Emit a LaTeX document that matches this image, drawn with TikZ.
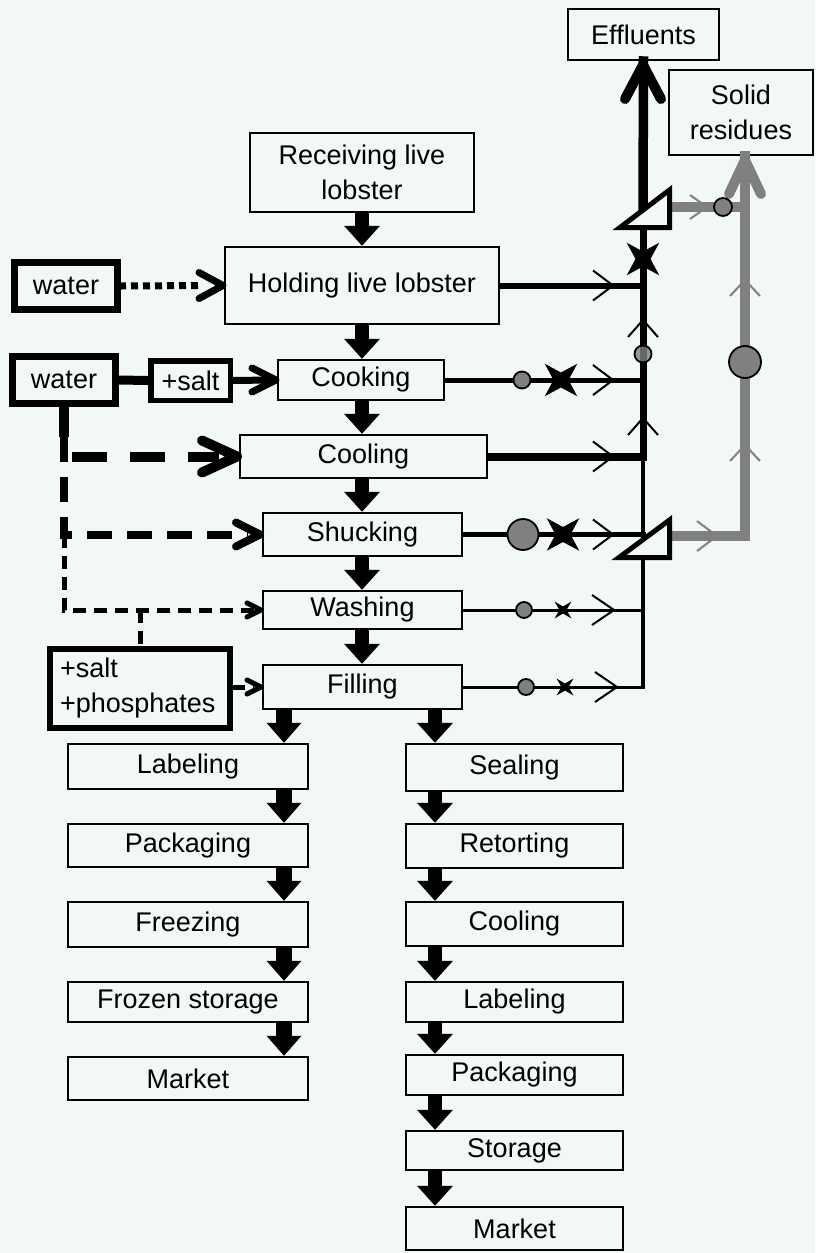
\documentclass[tikz,border=0pt]{standalone}
\usepackage{fontspec}
\setmainfont{Liberation Sans}
\usetikzlibrary{arrows.meta}
\definecolor{bg}{RGB}{242,248,245}
\definecolor{gr}{RGB}{128,128,128}
\newcommand\chevR[5]{\draw[#5] ({#1-#3},{#2-#4}) -- (#1,#2) -- ({#1-#3},{#2+#4});}
\newcommand\chevU[5]{\draw[#5] ({#1-#4},{#2+#3}) -- (#1,#2) -- ({#1+#4},{#2+#3});}
\newcommand\mystar[4]{\fill[shift={(#1,#2)}] (45:#3) -- (90:#4) -- (135:#3) -- (180:#4) -- (225:#3) -- (270:#4) -- (315:#3) -- (0:#4) -- cycle;}
\newcommand\bxc[7][box]{\node[#1, minimum width={(#5-#3)*1pt}, minimum height={(#6-#4)*1pt}] (#2) at ({(#3+#5)/2},{(#4+#6)/2}) {#7};}
\begin{document}
\begin{tikzpicture}[x=1pt,y=-1pt,
  box/.style={draw,line width=2.5pt,inner sep=0pt,align=center,font=\fontsize{27pt}{35pt}\selectfont},
  tbox/.style={box,line width=7pt},
  sbox/.style={box,line width=5.5pt},
  pbox/.style={box,line width=6pt,text width=160pt,align=left},
  barrow/.style={line width=14pt,-{Triangle[width=36pt,length=20pt,line width=0pt]}},
  barrowL/.style={line width=16pt,-{Triangle[width=35pt,length=20pt,line width=0pt]}},
  thinchev/.style={line width=2pt},
  grchev/.style={gr,line width=2pt},
  headchev/.style={line width=#1,line cap=round,line join=round},
  gdot/.style={fill=gr,draw=black,line width=1.8pt}]
\fill[bg] (0,0) rectangle (815,1253);
\useasboundingbox (0,0) rectangle (815,1253);

% main column
\bxc{recv}{250}{133}{474}{212}{Receiving live\\lobster}
\bxc{hold}{225}{247}{499}{324}{Holding live lobster}
\bxc{cook}{278}{360}{444}{400}{Cooking}
\bxc{cool}{240}{435}{487}{478}{Cooling}
\bxc{shuck}{263}{513}{462}{556}{Shucking}
\bxc{wash}{263}{591}{462}{629}{Washing}
\bxc{fill}{263}{665}{462}{709}{Filling}
% left column
\bxc{labA}{68}{744}{308}{789}{Labeling}
\bxc{packA}{68}{824}{308}{867}{Packaging}
\bxc{frz}{68}{902}{308}{947}{Freezing}
\bxc{fsto}{68}{982}{308}{1022}{Frozen storage}
\bxc{mktA}{68}{1057}{308}{1100}{Market}
% right column
\bxc{seal}{406}{744}{623}{791}{Sealing}
\bxc{ret}{406}{824}{623}{868}{Retorting}
\bxc{coolB}{406}{902}{623}{946}{Cooling}
\bxc{labB}{406}{982}{623}{1022}{Labeling}
\bxc{packB}{406}{1055}{623}{1095}{Packaging}
\bxc{stor}{406}{1131}{623}{1170}{Storage}
\bxc{mktB}{406}{1207}{623}{1250}{Market}
% outputs
\bxc{effl}{568}{9}{719}{60}{Effluents}
\bxc{solid}{669}{70}{813}{155}{Solid\\residues}
% inputs
\bxc[tbox]{waterA}{14.5}{262.5}{117.5}{309.5}{water}
\bxc[tbox]{waterB}{12.5}{356.5}{115.5}{403.5}{water}
\bxc[sbox]{salt}{150.75}{360.75}{230.25}{400.25}{+salt}
\bxc[pbox]{salph}{50}{649}{230}{728}{+salt\\+phosphates}

% block arrows
\coordinate (cM) at (362,0);
\coordinate (cL) at (284,0);
\coordinate (cR) at (435,0);
\draw[barrow] (recv.south -| cM) -- (hold.north -| cM);
\draw[barrow] (hold.south -| cM) -- (cook.north -| cM);
\draw[barrow] (cook.south -| cM) -- (cool.north -| cM);
\draw[barrow] (cool.south -| cM) -- (shuck.north -| cM);
\draw[barrow] (shuck.south -| cM) -- (wash.north -| cM);
\draw[barrow] (wash.south -| cM) -- (fill.north -| cM);
\draw[barrowL] (fill.south -| cL) -- (labA.north -| cL);
\draw[barrowL] (labA.south -| cL) -- (packA.north -| cL);
\draw[barrowL] (packA.south -| cL) -- (frz.north -| cL);
\draw[barrowL] (frz.south -| cL) -- (fsto.north -| cL);
\draw[barrowL] (fsto.south -| cL) -- (mktA.north -| cL);
\draw[barrow] (fill.south -| cR) -- (seal.north -| cR);
\draw[barrow] (seal.south -| cR) -- (ret.north -| cR);
\draw[barrow] (ret.south -| cR) -- (coolB.north -| cR);
\draw[barrow] (coolB.south -| cR) -- (labB.north -| cR);
\draw[barrow] (labB.south -| cR) -- (packB.north -| cR);
\draw[barrow] (packB.south -| cR) -- (stor.north -| cR);
\draw[barrow] (stor.south -| cR) -- (mktB.north -| cR);

% water inputs
\draw[line width=7pt,dash pattern=on 7pt off 5pt,dash phase=2pt] (waterA.east) -- ([xshift=-22pt]hold.west);
\chevR{223}{285.5}{24}{13}{headchev=7pt}
\draw[line width=9pt] (waterB.east) -- (salt.west);
\draw[line width=7pt] (salt.east) -- ([xshift=-6pt]cook.west);
\chevR{276}{380}{24}{12}{headchev=7pt}
\coordinate (vx) at (64,0);
\coordinate (ka) at (64,437);
\coordinate (kb) at (64,456.5);
\coordinate (kc) at (64,534.5);
\coordinate (kd) at (64,610);
\coordinate (ke) at (140,610);
\draw[line width=10pt] (waterB.south -| vx) -- (ka);
\draw[line width=10pt,dash pattern=on 35pt off 23pt,dash phase=50pt] (kb) -- ([xshift=-20pt]cool.west);
\chevR{237}{456.5}{35}{16}{headchev=10pt}
\draw[line width=8pt,dash pattern=on 25pt off 15pt] (ka) -- (kc) -- ([xshift=-14pt]shuck.west);
\chevR{260}{534.5}{24}{12}{headchev=8pt}
\draw[line width=5pt,dash pattern=on 13pt off 8pt] (kc) -- (kd) -- ([xshift=-8pt]wash.west);
\chevR{261}{610}{14}{7}{headchev=5pt}
\draw[line width=5pt,dash pattern=on 13pt off 8pt] (ke) -- (salph.north);
\draw[line width=5pt,dash pattern=on 12pt off 8pt] (fill.west -| salph.east) -- ([xshift=-8pt]fill.west);
\chevR{261}{687}{14}{7}{headchev=5pt}

% effluent lines
\coordinate (vX) at (643,0);
\draw[line width=6pt] (hold.east) -- (hold.east -| vX);
\draw[line width=5pt] (cook.east) -- (cook.east -| vX);
\draw[line width=8pt] (cool.east) -- (cool.east -| vX);
\draw[line width=5pt] (shuck.east) -- ([xshift=3pt]shuck.east -| vX);
\draw[line width=3pt] (wash.east) -- (wash.east -| vX);
\draw[line width=3pt] (fill.east) -- (fill.east -| vX);
\coordinate (vtop) at (643,222);
\coordinate (vmid) at (643,460.5);
\coordinate (vbot) at (643,688.5);
\draw[line width=7pt] (vtop) -- (vmid);
\draw[line width=4.5pt] ([yshift=1pt]vmid) -- (vbot);
\coordinate (etop) at (643,215);
\draw[line width=9.5pt] (etop) -- ([yshift=5pt]effl.south);
\chevU{643}{65}{34}{18}{headchev=10pt}
% solid residue lines
\coordinate (gA) at (665,207);
\coordinate (gB) at (665,536);
\coordinate (gC) at (745,536);
\coordinate (gD) at (745,207);
\draw[gr,line width=10pt] (gB) -- (gC) -- ([yshift=5pt]solid.south -| gC);
\draw[gr,line width=10pt] (gA) -- (gD);
\chevU{745}{160}{34}{16}{gr,headchev=10pt}

% separators
\filldraw[fill=bg,draw=black,line width=5pt] (620,227.5) -- (669.5,227.5) -- (669.5,190) -- cycle;
\filldraw[fill=bg,draw=black,line width=5pt] (619,557.5) -- (669.5,557.5) -- (669.5,520) -- cycle;

% markers on lines
\chevR{613}{285.5}{20}{15}{thinchev}
\filldraw[gdot] (522,380) circle[radius=8.5];
\mystar{561}{380}{23}{7.5}
\chevR{613}{380}{20}{15}{thinchev}
\chevR{613}{456.5}{20}{15}{thinchev}
\filldraw[gdot] (523,534.5) circle[radius=15.5];
\mystar{563}{534.5}{23}{7.5}
\chevR{613}{534.5}{20}{15}{thinchev}
\filldraw[gdot] (524,610) circle[radius=8];
\mystar{563}{610}{12}{3.5}
\chevR{614}{610}{22}{15}{thinchev}
\filldraw[gdot] (526,687) circle[radius=8];
\mystar{565}{687}{12}{3.5}
\chevR{617}{687}{22}{15}{thinchev}
% markers on vertical
\mystar{643}{259}{23}{7.5}
\chevU{643}{320}{17}{15}{thinchev}
\chevU{643}{418}{17}{15}{thinchev}
\filldraw[gdot,fill opacity=0.8] (643,354) circle[radius=8.5];
% markers on grey lines
\chevR{707}{207}{17}{12}{grchev}
\filldraw[gdot] (723,207) circle[radius=9];
\chevR{717}{536}{20}{15}{grchev}
\chevU{745}{280}{16}{15}{grchev}
\chevU{745}{445}{16}{15}{grchev}
\filldraw[gdot] (745,362) circle[radius=16];
\end{tikzpicture}
\end{document}
